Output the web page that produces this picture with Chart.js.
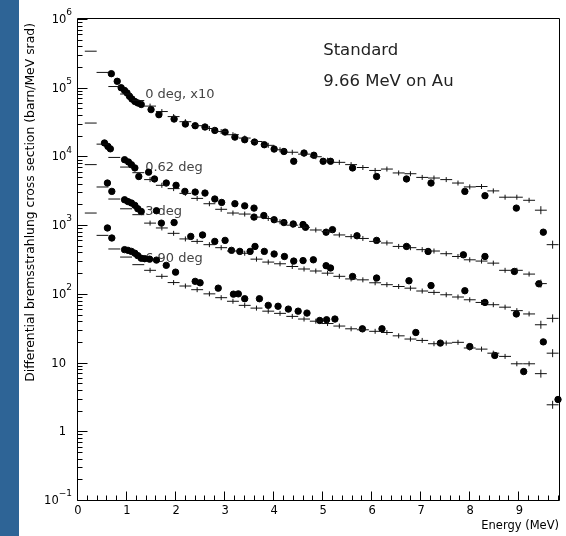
<!DOCTYPE html>
<html><head><meta charset="utf-8">
<script src="https://cdn.jsdelivr.net/npm/chart.js@4.4.1/dist/chart.umd.min.js"></script>
<style>
html,body{margin:0;padding:0;background:#fff;}
#wrap{position:relative;width:566px;height:536px;background:linear-gradient(to right,#2e6496 0,#2e6496 19px,#ffffff 19px);}
canvas{position:absolute;left:0;top:0;}
</style></head><body>
<div id="wrap"><canvas id="c" width="566" height="536"></canvas></div>
<script>
// ---- data ----
const binCenters = [0.26,0.50,0.74,0.98,1.23,1.47,1.71,1.95,2.19,2.43,2.68,2.92,3.16,3.40,3.64,3.88,4.12,4.37,4.61,4.85,5.09,5.33,5.57,5.81,6.06,6.30,6.54,6.78,7.02,7.26,7.51,7.75,7.99,8.23,8.47,8.71,8.95,9.20,9.44,9.68];

const mc0deg  = [340000,167000,104000,81000,65000,54000,45000,38000,32000,28000,25500,23000,20700,18500,16500,14500,12500,11500,10800,9900,8800,8200,7600,6900,6250,6550,5750,5600,4950,4850,4600,4100,3600,3650,3150,2550,2550,2300,1650,520];
const mc062deg = [30600,15100,9670,7000,5800,4600,3800,3400,2900,2450,2050,1700,1500,1450,1310,1250,1120,1000,930,850,810,720,680,640,580,550,490,470,440,420,384,350,313,300,280,220,220,194,141,44];
const mc3deg  = [7600,3590,2400,1730,1420,1070,910,760,630,580,520,470,420,390,320,290,274,250,230,215,200,180,165,160,145,136,128,121,110,105,97,90,82,75,69.5,64,57,51,35.5,13.7];
const mc690deg = [1500,710,450,343,266,220,180,146,130,115,100,88,78,68,62,56,52,47,43,40,37,34,31,30,28.5,27.4,24.5,22,21,18.8,19.2,19.7,16.3,15.7,13.7,12.3,9.6,9.6,6.9,2.43];

const expE0deg = [0.68,0.80,0.88,0.95,1.00,1.05,1.10,1.16,1.22,1.29,1.49,1.65,1.96,2.19,2.39,2.59,2.79,3.00,3.20,3.40,3.60,3.80,4.00,4.20,4.40,4.61,4.81,5.00,5.15,5.60,6.09,6.70,7.20,7.89,8.30,8.94,9.49];
const expV0deg = [160000,124000,100000,91000,84000,75000,68500,63000,60000,57000,48000,40500,35000,29600,28000,26800,23900,22600,19100,17500,16200,14800,12800,11800,8500,11200,10400,8500,8500,6800,5100,4700,4100,3100,2680,1770,790];

const expE062deg = [0.54,0.61,0.66,0.95,1.03,1.09,1.16,1.24,1.44,1.56,1.80,2.00,2.18,2.39,2.59,2.79,2.93,3.20,3.40,3.59,3.59,3.79,4.00,4.20,4.39,4.59,4.64,5.06,5.19,5.69,6.09,6.70,7.14,7.86,8.30,8.90,9.40];
const expV062deg = [15700,14000,12900,8960,8300,7570,6800,5100,5900,4700,4100,3800,3100,3030,2930,2400,2140,2050,1910,1770,1310,1380,1200,1090,1040,1020,930,790,860,700,600,490,414,370,350,212,140];

const expE3deg = [0.60,0.69,0.95,1.02,1.09,1.16,1.22,1.29,1.60,1.70,1.96,2.30,2.54,2.79,3.00,3.13,3.30,3.51,3.61,3.80,4.00,4.21,4.40,4.59,4.80,5.06,5.15,5.60,6.09,6.75,7.20,7.89,8.30,8.94,9.49];
const expV3deg = [4100,3100,2340,2200,2100,1940,1730,1580,1620,1070,1090,685,720,580,600,430,415,415,490,415,380,350,300,305,313,257,238,179,170,155,132,111,75,51,20];

const expE690deg = [0.60,0.69,0.95,1.02,1.09,1.16,1.22,1.29,1.36,1.46,1.60,1.80,1.99,2.39,2.49,2.86,3.17,3.27,3.40,3.70,3.88,4.08,4.29,4.49,4.67,4.93,5.07,5.24,5.80,6.20,6.89,7.39,7.99,8.50,9.09,9.79];
const expV690deg = [910,650,440,430,415,390,360,330,325,320,310,260,207,152,145,121,99,100,85,85,68,66,60,56,52.5,41,42,43,31,31,27.4,19.2,17.1,12.7,7.4,2.9];

const seriesLabels = ['0 deg, x10','0.62 deg','3 deg','6.90 deg'];
const labelAnchorE = [1.37,1.37,1.37,1.37];
const labelAnchorV = [79000,6850,1580,330];

const xTickValues = [0,1,2,3,4,5,6,7,8,9];
const xTickLabels = ['0','1','2','3','4','5','6','7','8','9'];
const yTickValues = [0.1,1,10,100,1000,10000,100000,1000000];
const yTickBase = ['10','1','10','10','10','10','10','10'];
const yTickExp  = ['\u22121','','','2','3','4','5','6'];

const yAxisTitle = 'Differential bremsstrahlung cross section (barn/MeV srad)';
const xAxisTitle = 'Energy (MeV)';

const infoLines = ['Standard','9.66 MeV on Au'];
const infoE = [5.0,5.0];
const infoV = [349000,123600];

// ---- build datasets ----
const FONT = 'DejaVu Sans';
const mcSets = [mc0deg, mc062deg, mc3deg, mc690deg];
const expSets = [[expE0deg,expV0deg],[expE062deg,expV062deg],[expE3deg,expV3deg],[expE690deg,expV690deg]];
const datasets = [];
mcSets.forEach((mc, s) => {
  const pts = binCenters.map((e,i)=>({x:e,y:mc[i]}));
  datasets.push({label:'mc-h'+s,data:pts,pointStyle:'line',pointRadius:5.95,borderColor:'#111',borderWidth:1,showLine:false,clip:false});
  datasets.push({label:'mc-v'+s,data:pts,pointStyle:'line',rotation:90,
    pointRadius:c=>c.dataIndex>=38?4:(c.dataIndex<5?0:2.5),borderColor:'#111',borderWidth:1,showLine:false,clip:false});
});
expSets.forEach(([E,V],s)=>{
  datasets.push({label:'exp'+s,data:E.map((e,i)=>({x:e,y:V[i]})),pointStyle:'circle',pointRadius:3.2,
    backgroundColor:'#000',borderColor:'#000',borderWidth:1,showLine:false,clip:false});
});

const textPlugin = {
  id:'seriesTexts',
  beforeDatasetsDraw(chart){
    const {ctx, scales:{x,y}} = chart;
    ctx.save();
    ctx.textBaseline='middle'; ctx.textAlign='left';
    ctx.fillStyle='#444'; ctx.font='13px "'+FONT+'"';
    seriesLabels.forEach((t,i)=>ctx.fillText(t, x.getPixelForValue(labelAnchorE[i]), y.getPixelForValue(labelAnchorV[i])));
    ctx.fillStyle='#222'; ctx.font='16.5px "'+FONT+'"';
    infoLines.forEach((t,i)=>ctx.fillText(t, x.getPixelForValue(infoE[i]), y.getPixelForValue(infoV[i])));
    ctx.restore();
  }
};

const framePlugin = {
  id:'frameBox',
  afterDraw(chart){
    const ctx = chart.ctx, a = chart.chartArea, x = chart.scales.x, y = chart.scales.y;
    ctx.save();
    try {
      ctx.strokeStyle='#000'; ctx.lineWidth=1;
      ctx.beginPath();
      const L=Math.round(a.left)-0.5, R=Math.round(a.right)+0.5, T=Math.round(a.top)-0.5, B=Math.round(a.bottom)+0.5;
      ctx.moveTo(L,T); ctx.lineTo(R,T); ctx.lineTo(R,B); ctx.lineTo(L,B); ctx.lineTo(L,T);
      for(let k=0;k<=49;k++){
        const v=k*0.2; if(v>x.max) break;
        const px=Math.round(x.getPixelForValue(v))-0.5;
        const len=(k%5===0)?9:5;
        ctx.moveTo(px,B); ctx.lineTo(px,B-len);
      }
      for(let d=-1; d<=6; d++){
        for(let m=1;m<10;m++){
          const v=m*Math.pow(10,d); if(v>y.max*1.0001) break;
          const py=Math.round(y.getPixelForValue(v))+0.5;
          const len=(m===1)?10:5;
          ctx.moveTo(L,py); ctx.lineTo(L+len,py);
        }
      }
      ctx.stroke();
      // y tick labels with superscript exponents
      ctx.fillStyle='#000'; ctx.textBaseline='middle';
      const rightEdge = L - 5.5;
      yTickValues.forEach((v,i)=>{
        const py = y.getPixelForValue(v);
        ctx.font='11.5px "'+FONT+'"';
        ctx.textAlign='right';
        if (yTickExp[i]) {
          ctx.font='9px "'+FONT+'"';
          const ew = ctx.measureText(yTickExp[i]).width;
          ctx.fillText(yTickExp[i], rightEdge, py-6);
          ctx.font='11.5px "'+FONT+'"';
          ctx.fillText(yTickBase[i], rightEdge-ew, py+1);
        } else {
          ctx.fillText(yTickBase[i], rightEdge-6, py+1);
        }
      });
      // y axis title (rotated), ending near the top of the frame
      ctx.save();
      ctx.translate(31, a.top + 4);
      ctx.rotate(-Math.PI/2);
      ctx.textAlign='right'; ctx.textBaseline='middle';
      ctx.font='12.4px "'+FONT+'"';
      ctx.fillText(yAxisTitle, 0, 0);
      ctx.restore();
    } catch(e) {
      ctx.fillStyle='red'; ctx.font='12px sans-serif'; ctx.fillText(String(e), 100, 300);
    }
    ctx.restore();
  }
};

new Chart(document.getElementById('c'), {
  type:'scatter',
  data:{datasets},
  options:{
    responsive:false, animation:false,
    layout:{padding:{left:19,top:19,right:7,bottom:0}},
    plugins:{legend:{display:false},tooltip:{enabled:false}},
    scales:{
      x:{type:'linear',min:0,max:9.81,
        grid:{display:false,drawTicks:false},border:{display:false},
        afterBuildTicks:s=>{s.ticks=xTickValues.map(v=>({value:v}));},
        afterFit:s=>{s.height=36;},
        ticks:{callback:(v,i)=>xTickLabels[i],color:'#000',font:{family:FONT,size:11.5},padding:4,maxRotation:0,autoSkip:false},
        title:{display:true,text:xAxisTitle,align:'end',color:'#000',font:{family:FONT,size:11.5},padding:{top:0,bottom:3}}
      },
      y:{type:'logarithmic',min:0.1,max:1000000,
        grid:{display:false,drawTicks:false},border:{display:false},
        afterBuildTicks:s=>{s.ticks=yTickValues.map(v=>({value:v}));},
        afterFit:s=>{s.width=59;},
        ticks:{display:false},
        title:{display:false}
      }
    }
  },
  plugins:[textPlugin, framePlugin]
});
</script>
</body></html>
